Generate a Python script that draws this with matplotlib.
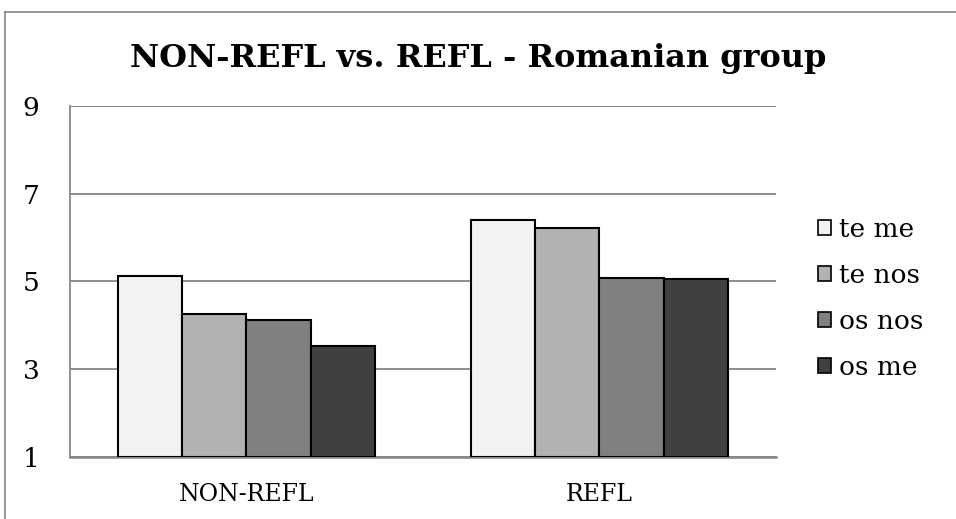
import matplotlib.pyplot as plt
import numpy as np
from matplotlib.lines import Line2D

# data
categories = ["NON-REFL", "REFL"]
series = ["te me", "te nos", "os nos", "os me"]
te_me = [5.12, 6.41]
te_nos = [4.25, 6.21]
os_nos = [4.13, 5.07]
os_me = [3.54, 5.05]
yticks = [1, 3, 5, 7, 9]

colors = ["#F2F2F2", "#B2B2B2", "#808080", "#404040"]
font = "DejaVu Serif"

fig = plt.figure(figsize=(9.56, 5.19), dpi=100)
ax = fig.add_axes([0.0732, 0.1195, 0.7385, 0.6763])

x = np.arange(len(categories))
w = 0.1825
values = [te_me, te_nos, os_nos, os_me]
for i, vals in enumerate(values):
    ax.bar(x + (i - 1.5) * w, np.array(vals) - 1, w, bottom=1,
           color=colors[i], edgecolor="black", linewidth=1.5,
           label=series[i], zorder=3)

ax.set_ylim(1, 9)
ax.set_xlim(-0.5, 1.5)
ax.set_yticks(yticks)
ax.set_yticklabels([str(t) for t in yticks], fontsize=19, family=font)
ax.set_xticks(x)
ax.set_xticklabels(categories, fontsize=17, family=font)
ax.tick_params(axis="both", length=0)
ax.tick_params(axis="y", pad=22)
ax.tick_params(axis="x", pad=19)
ax.yaxis.grid(True, color="#868686", linewidth=1.3, zorder=0)

for s in ["top", "right"]:
    ax.spines[s].set_visible(False)
ax.spines["left"].set_color("#868686")
ax.spines["left"].set_linewidth(1.3)
ax.spines["bottom"].set_color("#868686")
ax.spines["bottom"].set_linewidth(1.8)

fig.text(0.5, 0.887, "NON-REFL vs. REFL - Romanian group", ha="center",
         va="center", fontsize=23, fontweight="bold", family=font)

leg = ax.legend(loc="center left", bbox_to_anchor=(1.059, 0.452), frameon=False,
                prop={"family": font, "size": 19}, handlelength=0.5,
                handleheight=0.5, handletextpad=0.3, labelspacing=0.8,
                borderpad=0, borderaxespad=0)
for h in leg.legend_handles:
    h.set_linewidth(1.2)

# outer chart border (left and top visible)
fig.add_artist(Line2D([5 / 956, 5 / 956], [0, 1 - 12 / 519], color="#888888",
                      linewidth=1.2, transform=fig.transFigure))
fig.add_artist(Line2D([5 / 956, 1], [1 - 12 / 519, 1 - 12 / 519], color="#888888",
                      linewidth=1.2, transform=fig.transFigure))

fig.savefig("out.png", dpi=100)
